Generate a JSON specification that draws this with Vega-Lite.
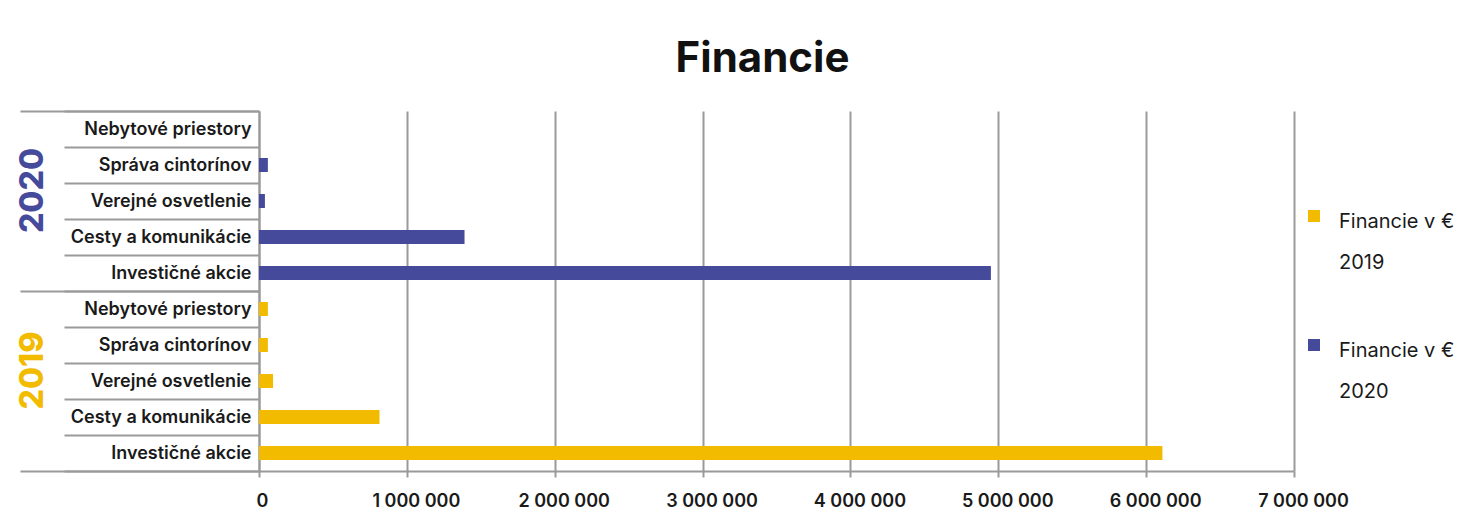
{
  "$schema": "https://vega.github.io/schema/vega-lite/v6.json",
  "width": 1035,
  "height": 360,
  "autosize": {"type": "none"},
  "padding": {"left": 259, "top": 111, "right": 169, "bottom": 51},
  "background": "white",
  "title": {"text": "Financie", "font": "Inter", "fontSize": 42, "fontWeight": "bold", "color": "#111111", "anchor": "middle", "dx": -14, "offset": 21},
  "config": {"view": {"stroke": null}, "style": {"guide-label": {"lineHeight": 41}}},
  "data": {"values": [
    {"key": "2020|Nebytové priestory", "year": "2020", "value": 0},
    {"key": "2020|Správa cintorínov", "year": "2020", "value": 60000},
    {"key": "2020|Verejné osvetlenie", "year": "2020", "value": 40000},
    {"key": "2020|Cesty a komunikácie", "year": "2020", "value": 1390000},
    {"key": "2020|Investičné akcie", "year": "2020", "value": 4950000},
    {"key": "2019|Nebytové priestory", "year": "2019", "value": 60000},
    {"key": "2019|Správa cintorínov", "year": "2019", "value": 60000},
    {"key": "2019|Verejné osvetlenie", "year": "2019", "value": 95000},
    {"key": "2019|Cesty a komunikácie", "year": "2019", "value": 815000},
    {"key": "2019|Investičné akcie", "year": "2019", "value": 6110000}
  ]},
  "layer": [
    {
      "mark": {"type": "bar", "size": 14},
      "encoding": {
        "y": {"field": "key", "type": "nominal", "sort": null,
          "scale": {"paddingInner": 0, "paddingOuter": 0},
          "axis": {"title": null, "orient": "left", "grid": false, "tickBand": "extent", "tickSize": 195, "tickColor": "#9a9a9a", "tickWidth": 2,
            "labelPadding": -187, "domainColor": "#9a9a9a", "domainWidth": 2,
            "labelExpr": "split(datum.label, '|')[1]", "labelFont": "Inter", "labelFontSize": 18, "labelFontWeight": 600, "labelColor": "#1a1a1a", "labelLimit": 300}},
        "x": {"field": "value", "type": "quantitative", "scale": {"domain": [0, 7000000]},
          "axis": {"title": null, "values": [0, 1000000, 2000000, 3000000, 4000000, 5000000, 6000000, 7000000],
            "labelExpr": "replace(format(datum.value, ','), regexp(',', 'g'), ' ')", "labelFlush": false,
            "labelOffset": {"condition": {"test": "datum.value == 0", "value": 3}, "value": 9},
            "grid": true, "gridColor": "#9a9a9a", "gridWidth": 2,
            "domainColor": "#9a9a9a", "domainWidth": 2, "tickColor": "#9a9a9a", "tickWidth": 2, "tickSize": 6,
            "labelPadding": 15, "labelFont": "Inter", "labelFontSize": 18, "labelFontWeight": 600, "labelColor": "#1a1a1a"}},
        "color": {"field": "year", "type": "nominal",
          "scale": {"domain": ["2019", "2020"], "range": ["#F2BB00", "#464A9B"]},
          "legend": {"title": null, "orient": "none", "legendX": 1045, "legendY": 107,
            "symbolType": "M-1,-3H1V-1H-1Z", "symbolSize": 144, "symbolStrokeWidth": 0,
            "labelFont": "Inter", "labelFontSize": 20, "labelColor": "#1a1a1a",
            "labelExpr": "['Financie v €', datum.label]", "labelOffset": 15, "rowPadding": 66, "labelBaseline": "alphabetic"}}
      }
    },
    {
      "mark": {"type": "bar", "opacity": 0},
      "encoding": {
        "y": {"field": "year", "type": "nominal", "sort": null,
          "scale": {"paddingInner": 0, "paddingOuter": 0},
          "axis": {"orient": "left", "title": null, "domain": false, "grid": false, "tickBand": "extent", "tickSize": 239, "tickColor": "#9a9a9a", "tickWidth": 2,
            "labelAngle": -90, "labelAlign": "center", "labelBaseline": "middle", "labelPadding": -12, "labelOffset": -11,
            "labelFont": "Inter", "labelFontSize": 32, "labelFontWeight": 800,
            "labelColor": {"condition": {"test": "datum.value == '2020'", "value": "#464A9B"}, "value": "#F2BB00"}}},
        "x": {"field": "value", "type": "quantitative", "stack": null}
      }
    }
  ],
  "resolve": {"scale": {"y": "independent"}, "axis": {"y": "independent"}}
}
